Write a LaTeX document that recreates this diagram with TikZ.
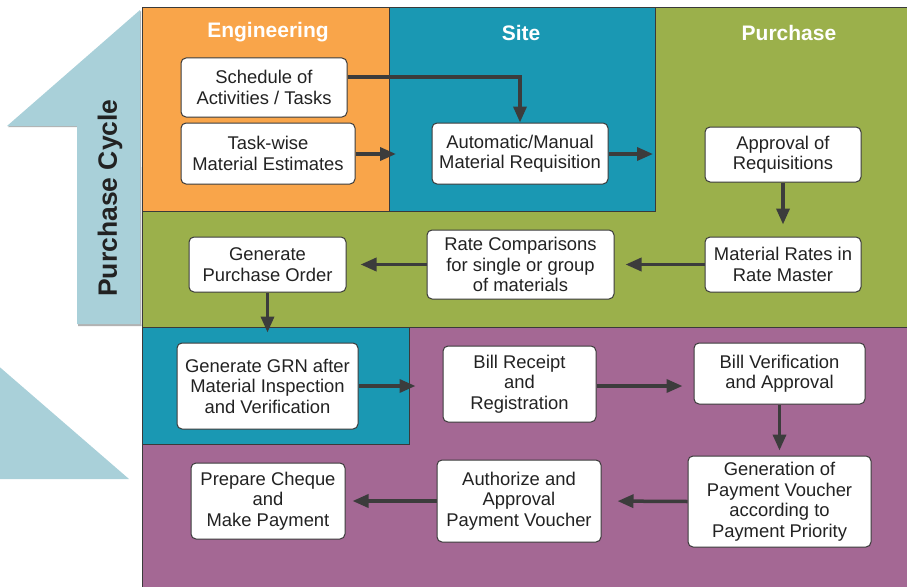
\documentclass[tikz,border=0pt]{standalone}
\usepackage{fontspec}
\setmainfont{Liberation Sans}
\usetikzlibrary{arrows.meta}
\definecolor{orng}{HTML}{F9A54A}
\definecolor{teal2}{HTML}{1A98B3}
\definecolor{grn2}{HTML}{9BB04B}
\definecolor{purp}{HTML}{A46894}
\definecolor{lblue}{HTML}{A9D0D9}
\definecolor{edge}{HTML}{3A3A3A}
\definecolor{arrc}{HTML}{3C3C3C}
\definecolor{txt}{HTML}{222222}
\tikzset{
  panel/.style={draw=edge, line width=0.9pt},
  stepbox/.style={draw=edge, fill=white, rounded corners=5pt, line width=1pt, align=center,
    inner sep=0pt, text=txt, font=\fontsize{18.4}{20.5}\selectfont},
  title/.style={text=white, font=\fontsize{21}{24}\selectfont\bfseries},
  arr/.style={draw=arrc, line width=3.5pt, -{Triangle[length=16pt,width=13pt]}}
}
\begin{document}
\begin{tikzpicture}[x=1pt,y=-1pt]
\clip (0,0) rectangle (907,586);
\useasboundingbox (0,0) rectangle (907,586);
% left arrow shape
\fill[gray!60] (141,11) -- (8,127) -- (78,127) -- (78,326) -- (141.5,326) -- cycle;
\fill[lblue] (140,10) -- (7,126) -- (77,126) -- (77,324) -- (140,324) -- cycle;
\fill[lblue] (-5,363) -- (129,479) -- (-5,479) -- cycle;
\node[rotate=90, text=txt, font=\fontsize{26.5}{30}\selectfont\bfseries] (cyc) at (110,198) {Purchase Cycle};
% panels
\filldraw[panel, fill=grn2] (142,7) rectangle (930,327);
\filldraw[panel, fill=purp] (142,327) rectangle (930,600);
\filldraw[panel, fill=orng] (142,7) rectangle (389,211);
\filldraw[panel, fill=teal2] (389,7) rectangle (655,211);
\filldraw[panel, fill=teal2] (142,327) rectangle (409,444);
% titles
\node[title] (teng) at (268,32) {Engineering};
\node[title] (tsite) at (521,33) {Site};
\node[title] (tpur) at (789,33) {Purchase};
% boxes
\node[stepbox, minimum width=166pt, minimum height=59pt] (sched) at (264,87.5) {Schedule of\\Activities / Tasks};
\node[stepbox, minimum width=174pt, minimum height=61pt] (task) at (268,153.5) {Task-wise\\Material Estimates};
\node[stepbox, minimum width=176pt, minimum height=61pt] (auto) at (520,153.5) {Automatic/Manual\\Material Requisition};
\node[stepbox, minimum width=156pt, minimum height=55pt] (appr) at (783,154.5) {Approval of\\Requisitions};
\node[stepbox, minimum width=156pt, minimum height=55pt] (rates) at (783,264.5) {Material Rates in\\Rate Master};
\node[stepbox, minimum width=187pt, minimum height=69pt] (comp) at (520.5,264.5) {Rate Comparisons\\for single or group\\of materials};
\node[stepbox, minimum width=157pt, minimum height=55pt] (po) at (267.5,264.5) {Generate\\Purchase Order};
\node[stepbox, minimum width=181pt, minimum height=86pt] (grn) at (267.5,386) {Generate GRN after\\Material Inspection\\and Verification};
\node[stepbox, minimum width=153pt, minimum height=76pt] (bill) at (519.5,384) {Bill Receipt\\and\\Registration};
\node[stepbox, minimum width=171pt, minimum height=61pt] (verif) at (779.5,373.5) {Bill Verification\\and Approval};
\node[stepbox, minimum width=183pt, minimum height=91pt] (gen) at (779.5,501.5) {Generation of\\Payment Voucher\\according to\\Payment Priority};
\node[stepbox, minimum width=164pt, minimum height=82pt] (auth) at (519,501) {Authorize and\\Approval\\Payment Voucher};
\node[stepbox, minimum width=154pt, minimum height=76pt] (cheque) at (268,501) {Prepare Cheque\\and\\Make Payment};
% free ends
\coordinate (c1) at (396,154);
\coordinate (c2) at (653,154);
% connectors
\draw[arr] ([yshift=10.5pt]sched.east) -| (auto.north);
\draw[arr] (task.east |- c1) -- (c1);
\draw[arr] (auto.east |- c2) -- (c2);
\draw[arr, shorten >=12pt] (appr.south) -- (rates.north);
\draw[arr, shorten >=11pt] (rates.west) -- (comp.east);
\draw[arr, shorten >=14pt] (comp.west) -- (po.east);
\draw[arr, shorten >=10pt] (po.south) -- (grn.north);
\draw[arr, shorten >=27pt] (grn.east) -- (grn.east -| bill.west);
\draw[arr, shorten >=11pt] ([yshift=-2pt]bill.east) -- ([yshift=-2pt]bill.east -| verif.west);
\draw[arr, shorten >=5pt] (verif.south) -- (gen.north);
\draw[arr, shorten >=16pt] (gen.west) -- (auth.east);
\draw[arr, shorten >=7pt] (auth.west) -- (cheque.east);
\end{tikzpicture}
\end{document}
